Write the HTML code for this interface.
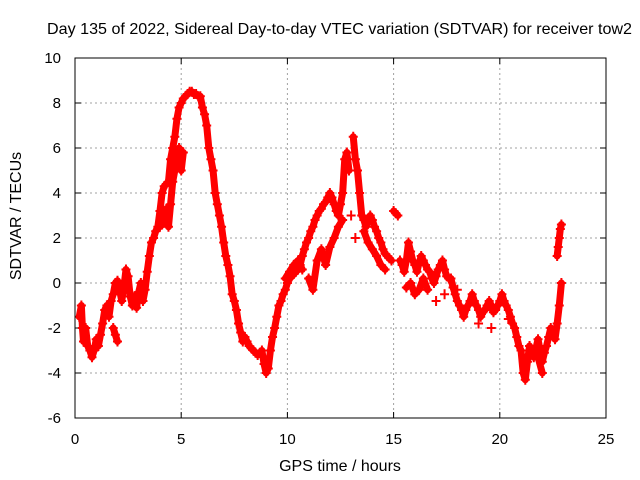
<!DOCTYPE html>
<html><head><meta charset="utf-8"><style>
html,body{margin:0;padding:0;background:#fff;}
svg{display:block;font-family:"Liberation Sans",sans-serif;}
</style></head><body>
<svg id="chart" width="640" height="480" viewBox="0 0 640 480">
<rect width="640" height="480" fill="#fff"/>
<text x="47" y="34" font-size="16" textLength="585" lengthAdjust="spacingAndGlyphs">Day 135 of 2022, Sidereal Day-to-day VTEC variation (SDTVAR) for receiver tow2</text>
<text transform="translate(21,216) rotate(-90)" font-size="16" text-anchor="middle">SDTVAR / TECUs</text>
<text x="340" y="471" font-size="16" text-anchor="middle">GPS time / hours</text>
<g id="grid"></g>
<g id="axes"></g>
<g id="marks"></g>
<rect x="75" y="58" width="531" height="360" fill="none" stroke="#000" stroke-width="1"/>
</svg>
<script>
const xTicks=[0,5,10,15,20,25];
const yTicks=[-6,-4,-2,0,2,4,6,8,10];
const mainT=[0.2,0.3,0.35,0.4,0.5,0.6,0.7,0.8,0.9,1.0,1.1,1.2,1.3,1.4,1.5,1.6,1.7,1.8,1.9,2.0,2.1,2.2,2.3,2.4,2.5,2.6,2.7,2.8,2.9,3.0,3.1,3.2,3.3,3.4,3.5,3.6,3.7,3.8,3.9,4.0,4.1,4.2,4.3,4.4,4.5,4.6,4.7,4.8,4.9,5.0,5.1,5.2,5.3,5.4,5.5,5.6,5.7,5.8,5.9,6.0,6.1,6.2,6.3,6.4,6.5,6.6,6.7,6.8,6.9,7.0,7.1,7.2,7.3,7.4,7.5,7.6,7.7,7.8,7.9,8.0,8.1,8.2,8.3,8.4,8.5,8.6,8.7,8.8,8.9,9.0,9.1,9.2,9.3,9.4,9.5,9.6,9.7,9.8,9.9,10.0,10.1,10.2,10.3,10.4,10.5,10.6,10.7,10.8,10.9,11.0,11.1,11.2,11.3,11.4,11.5,11.6,11.7,11.8,11.9,12.0,12.1,12.2,12.3,12.4,12.5,12.6,12.7,12.8,12.9,13.0,13.1,13.2,13.3,13.4,13.5,13.6,13.7,13.8,13.9,14.0,14.1,14.2,14.3,14.4,14.5,14.6,14.7,14.8,14.9,15.0,15.1,15.2,15.3,15.4,15.5,15.6,15.7,15.8,15.9,16.0,16.1,16.2,16.3,16.4,16.5,16.6,16.7,16.8,16.9,17.0,17.1,17.2,17.3,17.4,17.5,17.6,17.7,17.8,17.9,18.0,18.1,18.2,18.3,18.4,18.5,18.6,18.7,18.8,18.9,19.0,19.1,19.2,19.3,19.4,19.5,19.6,19.7,19.8,19.9,20.0,20.1,20.2,20.3,20.4,20.5,20.6,20.7,20.8,20.9,21.0,21.1,21.2,21.3,21.4,21.5,21.6,21.7,21.8,21.9,22.0,22.1,22.2,22.3,22.4,22.5,22.6,22.7,22.8,22.9];
const mainV=[-1.5,-1.0,-2.0,-2.6,-2.0,-2.8,-3.0,-3.3,-3.0,-2.5,-2.8,-2.3,-1.8,-1.2,-1.0,-1.5,-0.8,-0.5,0.0,0.1,-0.3,-0.8,-0.2,0.6,0.3,-0.6,-1.0,-0.6,-1.1,-0.4,0.0,-0.8,-0.3,0.5,1.2,1.8,2.0,2.3,2.5,3.2,4.0,4.3,4.4,4.5,5.5,6.0,6.5,7.3,7.8,8.0,8.2,8.3,8.4,8.5,8.5,8.4,8.4,8.3,8.3,7.8,7.5,7.0,6.0,5.5,5.0,4.0,3.5,3.0,2.5,1.8,1.2,0.8,0.3,-0.5,-0.8,-1.2,-1.8,-2.2,-2.6,-2.4,-2.6,-2.8,-2.9,-3.0,-3.1,-3.2,-3.1,-3.0,-3.6,-4.0,-3.8,-3.0,-2.4,-2.0,-1.5,-1.0,-0.8,-0.5,-0.3,0.0,0.2,0.3,0.4,0.5,0.6,0.8,1.2,1.5,1.8,2.0,2.3,2.5,2.8,3.0,3.2,3.3,3.5,3.6,3.8,4.0,3.8,3.5,3.2,3.0,3.5,4.0,5.5,5.8,5.0,3.0,6.5,5.5,5.0,4.0,3.0,2.8,2.5,2.8,3.0,2.8,2.5,2.3,2.0,1.8,1.5,1.3,1.2,1.1,1.0,3.2,3.1,3.0,1.0,0.8,0.5,1.0,1.8,1.4,1.0,0.8,0.5,0.9,1.2,1.0,0.8,0.6,0.5,0.2,0.0,0.3,0.6,0.8,1.0,0.6,0.3,0.2,0.2,-0.2,-0.5,-0.8,-1.0,-1.2,-1.5,-1.2,-1.0,-0.8,-0.5,-0.8,-1.0,-1.2,-1.5,-1.3,-1.2,-1.0,-0.8,-1.0,-1.3,-1.2,-1.0,-0.8,-0.5,-0.8,-1.0,-1.2,-1.5,-1.8,-2.0,-2.4,-2.8,-3.0,-4.0,-4.3,-3.5,-2.8,-3.0,-3.3,-2.9,-2.5,-3.0,-3.5,-3.1,-2.8,-2.4,-2.0,-2.2,-2.5,-1.8,-1.0,0.0];
const branchT=[1.8,1.9,2.0,4.0,4.1,4.2,4.3,4.4,4.5,4.6,4.7,4.8,4.9,5.0,5.1,9.9,10.1,10.3,10.5,10.7,11.0,11.2,11.4,11.6,11.8,12.0,12.2,12.4,12.6,13.2,13.6,13.8,14.0,14.2,14.4,14.6,15.6,15.8,16.0,16.2,16.4,16.6,17.0,17.4,18.0,19.0,19.6,20.4,21.8,22.0,22.7,22.75,22.8,22.85,22.9];
const branchV=[-2.0,-2.3,-2.6,2.5,2.6,3.0,3.3,2.5,3.5,4.5,5.0,5.5,6.0,5.0,5.8,0.2,0.5,0.8,1.0,0.6,0.2,-0.3,1.0,1.5,0.8,1.6,2.0,2.5,2.8,2.0,2.3,1.8,1.5,1.2,0.8,0.6,-0.2,0.0,-0.5,-0.3,0.2,-0.3,-0.8,-0.5,-0.3,-1.8,-2.0,-1.6,-3.3,-4.0,1.2,1.6,2.0,2.4,2.6];
const NS="http://www.w3.org/2000/svg";
const X0=75,X1=606,Y0=418,Y1=58;
function xs(t){return X0+(t-0)/(25-0)*(X1-X0);}
function ys(v){return Y0-(v+6)/(10+6)*(Y0-Y1);}
const grid=document.getElementById('grid'),axes=document.getElementById('axes'),marks=document.getElementById('marks');
function mk(tag,attrs,parent){const e=document.createElementNS(NS,tag);for(const k in attrs)e.setAttribute(k,attrs[k]);parent.appendChild(e);return e;}
xTicks.forEach(t=>{
  const x=xs(t);
  if(t>0&&t<25){const g=mk('line',{x1:x,x2:x,y1:Y1,y2:Y0,stroke:'#a0a0a0','stroke-dasharray':'2,3'},grid);
  
  }
  mk('line',{x1:x,x2:x,y1:Y0,y2:Y0-6,stroke:'#000'},axes);
  mk('line',{x1:x,x2:x,y1:Y1,y2:Y1+6,stroke:'#000'},axes);
  const l=mk('text',{x:x,y:444,'font-size':15,'text-anchor':'middle'},axes);
  l.textContent=t;
  
  
});
yTicks.forEach(v=>{
  const y=ys(v);
  if(v>-6&&v<10){const g=mk('line',{x1:X0,x2:X1,y1:y,y2:y,stroke:'#a0a0a0','stroke-dasharray':'2,3'},grid);
  
  }
  mk('line',{x1:X0,x2:X0+6,y1:y,y2:y,stroke:'#000'},axes);
  mk('line',{x1:X1,x2:X1-6,y1:y,y2:y,stroke:'#000'},axes);
  const l=mk('text',{x:61,y:y+5,'font-size':15,'text-anchor':'end'},axes);
  l.textContent=v;
  
  
});
function trace(T,V,name){
  let d='';
  for(let i=1;i<T.length;i++){
    if(T[i]-T[i-1]<=0.25 && Math.abs(V[i]-V[i-1])<1.6){
      d+=`M${xs(T[i-1])},${ys(V[i-1])}L${xs(T[i])},${ys(V[i])}`;
    }
  }
  const p=mk('path',{d:d,stroke:'#ff0000','stroke-width':7,'stroke-linecap':'round',fill:'none'},marks);
  
  
}
trace(mainT,mainV,'main-trace');
trace(branchT,branchV,'branch-trace');
function plus(t,v){
  const x=xs(t),y=ys(v);
  const p=mk('path',{d:`M${x-4.5},${y}h9M${x},${y-5}v10`,stroke:'#ff0000','stroke-width':2,fill:'none'},marks);
  
  
}
mainT.forEach((t,i)=>plus(t,mainV[i]));
branchT.forEach((t,i)=>plus(t,branchV[i]));
</script>
</body></html>
